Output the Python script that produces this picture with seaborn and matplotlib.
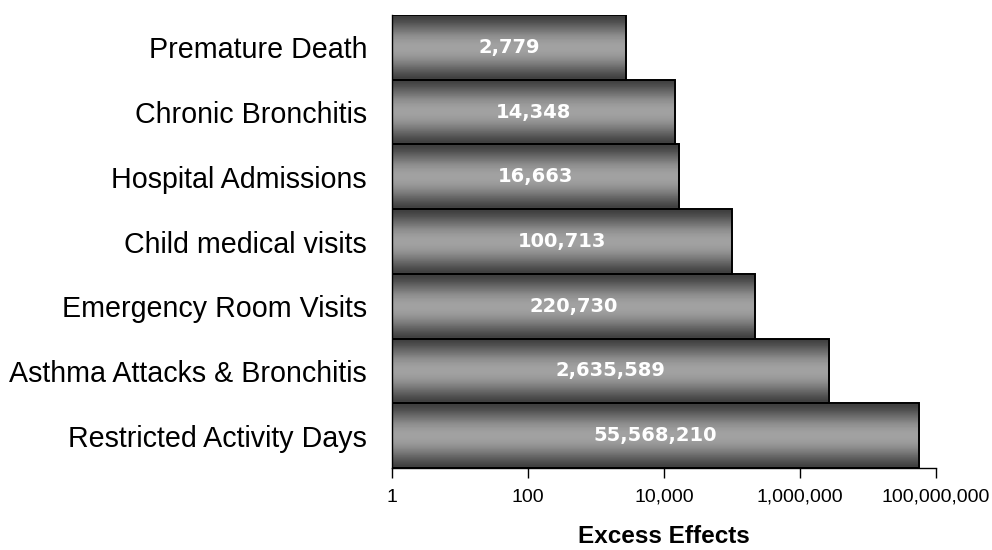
import numpy as np
import pandas as pd
import seaborn as sns
import matplotlib.pyplot as plt
from matplotlib.ticker import FixedLocator, NullLocator, FuncFormatter

# Chart data
categories = ['Premature Death', 'Chronic Bronchitis', 'Hospital Admissions',
              'Child medical visits', 'Emergency Room Visits',
              'Asthma Attacks & Bronchitis', 'Restricted Activity Days']
excess_effects = [2779, 14348, 16663, 100713, 220730, 2635589, 55568210]
x_ticks = [1, 100, 10000, 1000000, 100000000]

df = pd.DataFrame({'Effect': categories, 'Excess': excess_effects})

sns.set_style('white')
plt.rcParams['font.family'] = ['Liberation Sans', 'DejaVu Sans']
plt.rcParams['text.color'] = 'black'
plt.rcParams['axes.labelcolor'] = 'black'
plt.rcParams['xtick.color'] = 'black'
plt.rcParams['ytick.color'] = 'black'

fig = plt.figure(figsize=(9.92, 5.5), dpi=100)
ax = fig.add_axes([0.3952, 0.1491, 0.5484, 0.8236])

sns.barplot(data=df, x='Excess', y='Effect', orient='h', color='#808080',
            width=1.0, edgecolor='black', linewidth=1.4, ax=ax)
ax.set_xscale('log')
ax.set_xlim(1, 1e8)
ax.set_ylim(len(categories) - 0.5, -0.5)

# Cylinder-like vertical shading inside each bar (dark edges, light middle)
shade = np.array([0.25, 0.31, 0.39, 0.47, 0.55, 0.60, 0.63, 0.63, 0.61,
                  0.56, 0.49, 0.41, 0.33, 0.26])
shade_img = np.repeat(shade[:, None], 2, axis=1)
xmin, xmax = ax.get_xlim()
for patch, v in zip(ax.patches, excess_effects):
    y0 = patch.get_y()
    h = patch.get_height()
    im = ax.imshow(shade_img, cmap='gray', vmin=0, vmax=1, aspect='auto',
                   extent=(xmin, xmax, y0 + h, y0), interpolation='bilinear',
                   zorder=patch.get_zorder() + 0.1)
    im.set_clip_path(patch)
    patch.set_facecolor('none')
    patch.set_zorder(patch.get_zorder() + 0.2)
    ax.text(np.sqrt(xmin * v), y0 + h / 2, f'{v:,}', ha='center', va='center',
            color='white', fontsize=14, fontweight='bold',
            family='DejaVu Sans', zorder=5)

ax.set_xlim(1, 1e8)
ax.set_ylim(len(categories) - 0.5, -0.5)

ax.xaxis.set_major_locator(FixedLocator(x_ticks))
ax.xaxis.set_minor_locator(NullLocator())
ax.xaxis.set_major_formatter(FuncFormatter(lambda v, p: f'{int(round(v)):,}'))
ax.tick_params(axis='x', direction='out', length=7, width=1, pad=8,
               labelsize=14, colors='black', bottom=True)
ax.tick_params(axis='y', length=0, pad=18, labelsize=20.6, colors='black')

ax.set_xlabel('Excess Effects', fontsize=17.5, fontweight='bold', labelpad=14,
              color='black')
ax.set_ylabel('')

for side in ['top', 'right']:
    ax.spines[side].set_visible(False)
for side in ['left', 'bottom']:
    ax.spines[side].set_color('black')
    ax.spines[side].set_linewidth(1)

fig.savefig('out.png', dpi=100)
plt.close(fig)
